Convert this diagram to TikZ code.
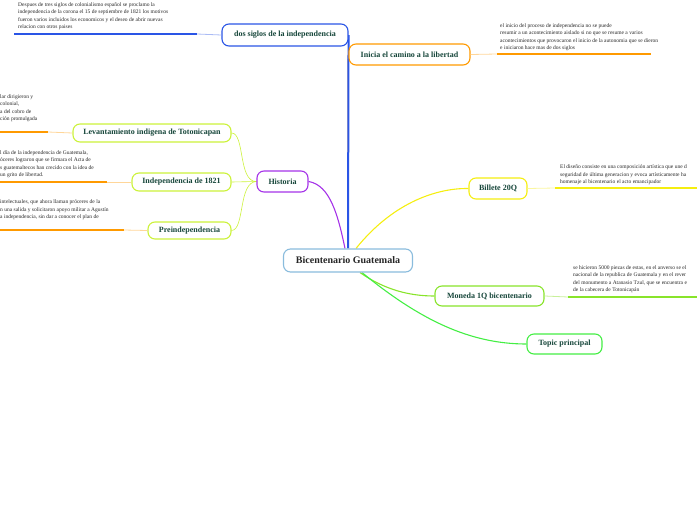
\documentclass[tikz,border=0pt]{standalone}
\usepackage{fontspec}
\setmainfont{Liberation Serif}
\usetikzlibrary{backgrounds}
\definecolor{cblue}{HTML}{2A55E6}
\definecolor{corange}{HTML}{FF9A00}
\definecolor{corangel}{HTML}{FFD699}
\definecolor{cpurple}{HTML}{A533E8}
\definecolor{cyg}{HTML}{CCF23A}
\definecolor{cyellow}{HTML}{F5EE10}
\definecolor{cyellowl}{HTML}{FAF6A0}
\definecolor{clime}{HTML}{88E42A}
\definecolor{climel}{HTML}{C8F09A}
\definecolor{cgreen}{HTML}{44EE44}
\definecolor{ccent}{HTML}{8ABCDD}
\definecolor{ctext}{HTML}{16463A}
\tikzset{
  topicbox/.style={draw, rounded corners=7pt, line width=1.1pt, fill=white, font=\fontsize{8}{9}\selectfont\bfseries, text=ctext, inner xsep=8pt, minimum height=20pt},
  notetext/.style={font=\fontsize{5.5}{7.4}\selectfont, text=black!85, align=left, inner sep=0pt, anchor=south west},
  thickl/.style={line width=1.6pt},
  thinl/.style={line width=0.8pt},
  mainconn/.style={line width=1.1pt},
  subconn/.style={cyg, line width=0.6pt},
}
\begin{document}
\begin{tikzpicture}[x=1pt,y=-1pt]
\useasboundingbox (0,0) rectangle (697,520);
% nodes
\node[topicbox, draw=ccent, font=\fontsize{10}{12}\selectfont\bfseries, text=black!85, minimum width=129pt, minimum height=23pt] (cen) at (348,260.5) {Bicentenario Guatemala};
\node[topicbox, draw=cblue, minimum width=126pt, minimum height=22pt] (dos) at (285,35) {dos siglos de la independencia};
\node[topicbox, draw=corange, minimum width=121pt, minimum height=21pt] (ini) at (409.5,54.5) {Inicia el camino a la libertad};
\node[topicbox, draw=cpurple, minimum width=51pt, minimum height=21pt] (his) at (282.5,181.5) {Historia};
\node[topicbox, draw=cyg, minimum width=158pt, minimum height=18pt] (lev) at (152,133) {Levantamiento indigena de Totonicapan};
\node[topicbox, draw=cyg, minimum width=99pt, minimum height=18pt] (ind) at (181.5,182) {Independencia de 1821};
\node[topicbox, draw=cyg, minimum width=83pt, minimum height=17pt] (pre) at (189.5,230.5) {Preindependencia};
\node[topicbox, draw=cyellow, minimum width=58pt, minimum height=21pt] (bil) at (498,188.5) {Billete 20Q};
\node[topicbox, draw=clime, minimum width=109pt, minimum height=20pt] (mon) at (489.5,296) {Moneda 1Q bicentenario};
\node[topicbox, draw=cgreen, minimum width=75pt, minimum height=20pt] (top) at (564.5,344) {Topic principal};
% leaf end coordinates
\coordinate (dosA) at (197,34); \coordinate (dosB) at (14,34);
\coordinate (iniA) at (497,54); \coordinate (iniB) at (651,54);
\coordinate (levA) at (48,132); \coordinate (levB) at (0,132);
\coordinate (indA) at (107,182); \coordinate (indB) at (0,182);
\coordinate (preA) at (124,230); \coordinate (preB) at (0,230);
\coordinate (bilA) at (555,188); \coordinate (bilB) at (697,188);
\coordinate (monA) at (568,297); \coordinate (monB) at (697,297);
\begin{pgfonlayer}{background}
% main connectors
\draw[corange, line width=1pt] (cen.north) .. controls (348,100) and (348,54) .. (ini.west);
\draw[cblue, line width=2pt] (cen.north) -- (dos.east);
\draw[cpurple, mainconn] ([xshift=-3pt]cen.north) .. controls (338,215) and (330,185) .. (his.east);
\draw[cyellow, mainconn] ([xshift=8pt]cen.north) .. controls (395,200) and (440,188) .. (bil.west);
\draw[clime, mainconn] ([xshift=12pt]cen.south) .. controls (385,290) and (410,296) .. (mon.west);
\draw[cgreen, mainconn] ([xshift=14pt]cen.south) .. controls (420,320) and (470,344) .. (top.west);
% sub connectors
\draw[subconn] (his.west) .. controls (238,182) and (245,133) .. (lev.east);
\draw[subconn] (his.west) -- (ind.east);
\draw[subconn] (his.west) .. controls (238,182) and (245,230) .. (pre.east);
\end{pgfonlayer}
% leaves
\draw[cblue!40, thinl] (dos.west) -- (dosA);
\draw[cblue, thickl] (dosA) -- (dosB);
\draw[corangel, thinl] (ini.east) -- (iniA);
\draw[corange, thickl] (iniA) -- (iniB);
\draw[corangel, thinl] (lev.west) -- (levA);
\draw[corange, thickl] (levA) -- (levB);
\draw[corangel, thinl] (ind.west) -- (indA);
\draw[corange, thickl] (indA) -- (indB);
\draw[corangel, thinl] (pre.west) -- (preA);
\draw[corange, thickl] (preA) -- (preB);
\draw[cyellowl, thinl] (bil.east) -- (bilA);
\draw[cyellow, thickl] (bilA) -- (bilB);
\draw[climel, thinl] (mon.east) -- (monA);
\draw[clime, thickl] (monA) -- (monB);
% notes
\node[notetext] (t1) at (18,30) {Despues de tres siglos de colonialismo español se proclamo la\\independencia de la corona el 15 de septiembre de 1821 los motivos\\fueron varios incluidos los economicos y el deseo de abrir nuevas\\relacion con otros paises};
\node[notetext] (t2) at (500,51) {el inicio del proceso de independencia no se puede\\resumir a un acontecimiento aislado si no que se resume a varios\\acontecimientos que provocaron el inicio de la autonomia que se dieron\\e iniciaron hace mas de dos siglos};
\node[notetext] (t3) at (0,122) {lar dirigieron y\\colonial,\\a del cobro de\\ción promulgada};
\node[notetext] (t4) at (0,178) {l día de la independencia de Guatemala,\\óceres lograron que se firmara el Acta de\\s guatemaltecos han crecido con la idea de\\un grito de libertad.};
\node[notetext] (t5) at (0,220) {intelectuales, que ahora llaman próceres de la\\n una salida y solicitaron apoyo militar a Agustín\\a independencia, sin dar a conocer el plan de};
\node[notetext] (t6) at (560,185) {El diseño consiste en una composición artística que une d\\seguridad de última generacion y evoca artísticamente ha\\homenaje al bicentenario el acto emancipador};
\node[notetext] (t7) at (573,293) {se hicieron 5000 piezas de estas, en el anverso se el\\nacional de la republica de Guatemala y en el rever\\del monumento  a Atanasio Tzul, que se encuentra e\\de la cabecera de Totonicapán};
\end{tikzpicture}
\end{document}
